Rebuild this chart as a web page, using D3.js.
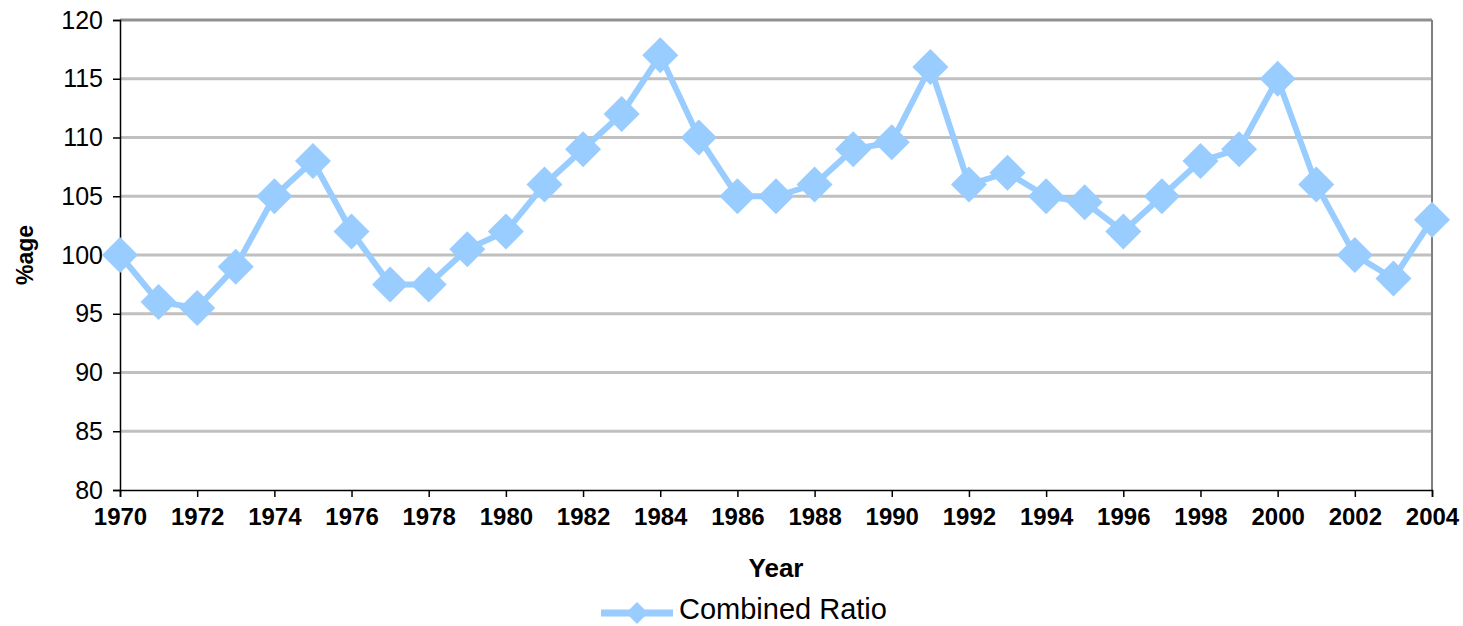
<!DOCTYPE html>
<html><head><meta charset="utf-8">
<script src="https://cdn.jsdelivr.net/npm/d3@7"></script>
<style>body{margin:0;background:#fff}svg{display:block}text{font-family:"Liberation Sans",Arial,sans-serif}</style>
</head><body>
<svg id="c" width="1463" height="626"></svg>
<script>
const years = [1970,1971,1972,1973,1974,1975,1976,1977,1978,1979,1980,1981,1982,1983,1984,1985,1986,1987,1988,1989,1990,1991,1992,1993,1994,1995,1996,1997,1998,1999,2000,2001,2002,2003,2004];
const combinedRatio = [100,96,95.5,99,105,108,102,97.5,97.5,100.5,102,106,109,112,117,110,105,105,106,109,109.6,116,106,107,105,104.5,102,105,108,109,115,106,100,98,103];
const yTicks = [80,85,90,95,100,105,110,115,120];
const xTicks = [1970,1972,1974,1976,1978,1980,1982,1984,1986,1988,1990,1992,1994,1996,1998,2000,2002,2004];
const seriesName = "Combined Ratio";

const svg = d3.select("#c");
const L=120,R=1432,T=20,B=490;
const x = d3.scaleLinear().domain([1970,2004]).range([L,R]);
const y = d3.scaleLinear().domain([80,120]).range([B,T]);
const col = "#99CCFF";
const FF = "Liberation Sans, Arial, sans-serif";

svg.append("g").selectAll("line").data(yTicks.filter(v=>v>80)).join("line")
  .attr("x1",L).attr("x2",R).attr("y1",d=>y(d)).attr("y2",d=>y(d))
  .attr("stroke",d=>d===120?"#909090":"#C0C0C0").attr("stroke-width",3);
svg.append("line").attr("x1",R).attr("x2",R).attr("y1",T).attr("y2",B).attr("stroke","#808080").attr("stroke-width",2);

const ya = svg.append("g").attr("transform",`translate(${L},0)`)
  .call(d3.axisLeft(y).tickValues(yTicks).tickSize(7).tickPadding(10));
ya.attr("font-size",25).attr("font-family",FF);
ya.select(".domain").attr("stroke","#000").attr("stroke-width",1.5);
ya.selectAll(".tick line").attr("stroke","#000").attr("stroke-width",1.5);
ya.selectAll("text").attr("fill","#000");

const xa = svg.append("g").attr("transform",`translate(0,${B})`)
  .call(d3.axisBottom(x).tickValues(xTicks).tickFormat(d3.format("d")).tickSize(7).tickPadding(11));
xa.attr("font-size",24).attr("font-family",FF).attr("font-weight","bold");
xa.select(".domain").attr("stroke","#000").attr("stroke-width",1.5);
xa.selectAll(".tick line").attr("stroke","#000").attr("stroke-width",1.5);
xa.selectAll("text").attr("fill","#000");

svg.append("text").attr("x",776).attr("y",577).attr("text-anchor","middle")
  .attr("font-size",26).attr("font-weight","bold").text("Year");
svg.append("text").attr("transform","translate(33,255) rotate(-90)").attr("text-anchor","middle")
  .attr("font-size",23).attr("font-weight","bold").text("%age");

const line = d3.line().x((d,i)=>x(years[i])).y(d=>y(d));
svg.append("path").datum(combinedRatio).attr("d",line).attr("fill","none")
  .attr("stroke",col).attr("stroke-width",6).attr("stroke-linejoin","round");
const dia = s=>`M0,${-s}L${s},0L0,${s}L${-s},0Z`;
svg.append("g").selectAll("path").data(combinedRatio).join("path")
  .attr("transform",(d,i)=>`translate(${x(years[i])},${y(d)})`)
  .attr("d",dia(18)).attr("fill",col);

const lg = svg.append("g");
lg.append("line").attr("x1",601).attr("x2",673).attr("y1",613).attr("y2",613).attr("stroke",col).attr("stroke-width",7);
lg.append("path").attr("transform","translate(637,613)").attr("d",dia(11)).attr("fill",col);
lg.append("text").attr("x",679).attr("y",619).attr("font-size",29).text(seriesName);
</script>
</body></html>
